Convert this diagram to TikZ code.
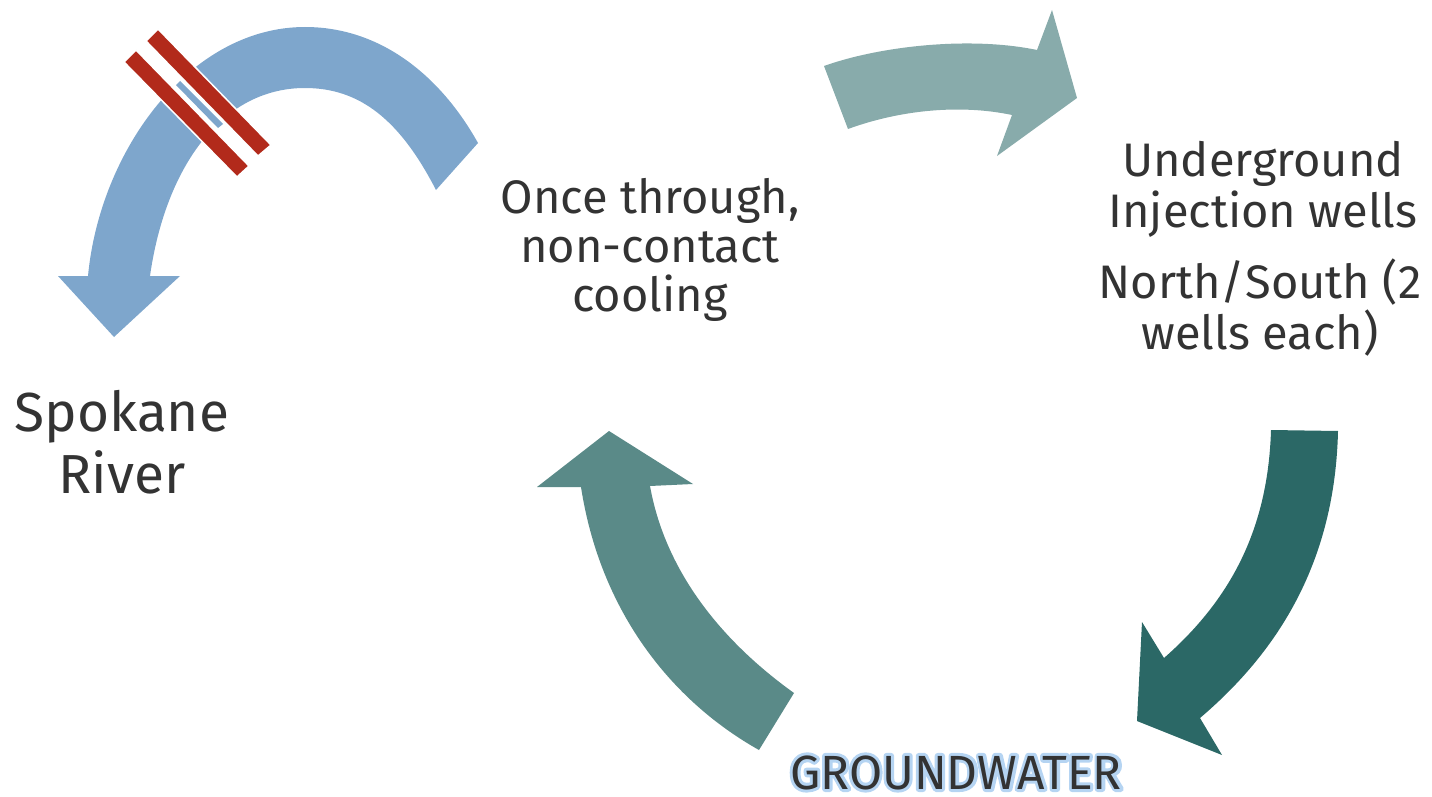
\documentclass[tikz,border=0pt]{standalone}
\usepackage{fontspec}
\setmainfont{Fira Sans}
\definecolor{riverblue}{HTML}{7EA6CC}
\definecolor{barred}{HTML}{B22A1B}
\definecolor{topteal}{HTML}{88ABAB}
\definecolor{darkteal}{HTML}{2B6866}
\definecolor{midteal}{HTML}{5A8A88}
\definecolor{txt}{HTML}{333333}
\definecolor{glowblue}{HTML}{B5D3F2}
\newcommand{\glowwrite}[1]{\special{pdf:literal direct 2 Tr 1 j 6 w 0.71 0.83 0.95 RG}#1\special{pdf:literal direct 0 Tr}}
\tikzset{
  lbl/.style={anchor=base, inner sep=0pt, text=txt, font=\fontsize{47}{56}\selectfont},
  biglbl/.style={lbl, font=\fontsize{55}{60}\selectfont},
  gwlbl/.style={lbl, font=\fontsize{48}{56}\selectfont},
  redbar/.style={fill=barred, draw=white, line width=1.5pt},
}
\begin{document}
\begin{tikzpicture}[x=1pt,y=-1pt]
\useasboundingbox (0,0) rectangle (1432,797);

% blue river arrow
\fill[riverblue] (88,276) .. controls (100,150) and (190,27) .. (305,27)
  .. controls (380,27) and (440,75) .. (478,143)
  -- (436,190) .. controls (400,120) and (360,88) .. (305,88)
  .. controls (220,88) and (165,170) .. (150,276)
  -- (180,276) -- (114,337) -- (58,276) -- cycle;
% gap between bars
\fill[white] (146,41) -- (258,156) -- (249,166) -- (136,50) -- cycle;
\fill[riverblue] (180,81) -- (223,124) -- (218,128) -- (176,85) -- cycle;
% red bars
\filldraw[redbar] (158,29) -- (271,145) -- (258,156) -- (146,41) -- cycle;
\filldraw[redbar] (136,50) -- (249,166) -- (237,177) -- (124,62) -- cycle;

% top arrow
\fill[topteal] (824,66) .. controls (880,46) and (970,36) .. (1037,50)
  -- (1052,10) -- (1077,98) -- (997,156) -- (1012,115)
  .. controls (960,104) and (900,110) .. (848,129) -- cycle;

% right down arrow
\fill[darkteal] (1271,430) -- (1338,431)
  .. controls (1335,560) and (1280,650) .. (1200,718)
  -- (1222,755) -- (1137,721) -- (1142,622) -- (1164,658)
  .. controls (1230,600) and (1268,530) .. (1271,430) -- cycle;

% bottom-left up arrow
\fill[midteal] (759,750) .. controls (670,700) and (600,610) .. (581,487)
  -- (537,487) -- (609,431) -- (693,484) -- (650,486)
  .. controls (665,570) and (720,640) .. (794,693) -- cycle;

% texts
\node[lbl] (once1) at (650,213) {Once through,};
\node[lbl] (once2) at (650,262) {non-contact};
\node[lbl] (once3) at (650,311) {cooling};

\node[lbl] (ug1) at (1263,176) {Underground};
\node[lbl] (ug2) at (1263,227) {Injection wells};
\node[lbl] (ns1) at (1260,298) {North/South (2};
\node[lbl] (ns2) at (1260,349) {wells each)};

\node[biglbl] (sr1) at (122,431) {Spokane};
\node[biglbl] (sr2) at (122,493) {River};

\node[gwlbl, text=glowblue] (gwglow) at (956,789) {\glowwrite{GROUNDWATER}};
\node[gwlbl] (gw) at (956,789) {GROUNDWATER};
\end{tikzpicture}
\end{document}
